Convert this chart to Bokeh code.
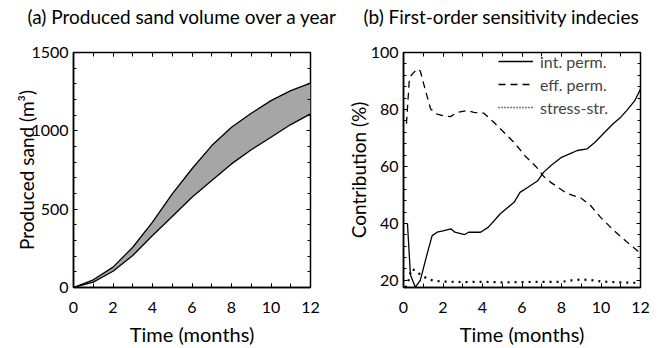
from bokeh.plotting import figure
from bokeh.layouts import row
from bokeh.models import (Range1d, SingleIntervalTicker, LinearAxis, Title,
                          Legend, LegendItem, ColumnDataSource)
from bokeh.embed import file_html
from bokeh.resources import INLINE

FONT = "Lato"

# ---------------- data: panel (a) ----------------
months = [0, 1, 2, 3, 4, 5, 6, 7, 8, 9, 10, 11, 12]
sand_upper = [0, 49, 130, 257, 417, 598, 758, 906, 1023, 1112, 1193, 1257, 1304]
sand_lower = [0, 34, 104, 204, 332, 453, 576, 683, 789, 879, 959, 1040, 1108]

# ---------------- data: panel (b) ----------------
int_perm_t = [0.2, 0.35, 0.6, 0.85, 1.2, 1.45, 1.7, 2.0, 2.4, 2.6, 3.1, 3.3, 3.9, 4.3,
              4.9, 5.6, 5.9, 6.3, 6.8, 7.1, 7.5, 8.0, 8.5, 8.8, 9.3, 9.7, 10.1, 10.6,
              11.0, 11.3, 11.7, 12.0]
int_perm = [40, 22, 17.6, 20, 29.4, 35.7, 36.9, 37.4, 38.1, 36.9, 36.1, 36.9, 36.9, 38.7,
            43.4, 47.4, 50.9, 52.7, 55, 58, 60.5, 63.2, 64.7, 65.6, 66.2, 68.5, 71.4, 74.9,
            77.3, 79.6, 83, 87.2]

eff_perm_t = [0.15, 0.3, 0.45, 0.7, 0.85, 1.1, 1.37, 1.7, 2.0, 2.38, 2.72, 3.22, 3.56,
              4.07, 4.57, 5.08, 5.59, 6.18, 6.7, 7.1, 7.44, 8.28, 8.96, 9.47, 9.97, 10.65,
              11.33, 12.0]
eff_perm = [75, 91, 92.5, 94.2, 93.5, 87, 80.2, 78.4, 77.8, 77.5, 79, 79.6, 79,
            78.7, 75.5, 72, 68.5, 63.5, 60, 56.5, 54.5, 50.5, 49, 46.3, 42.2, 37.5,
            33.4, 29.5]

stress_t = [0.1, 0.22, 0.4, 0.6, 0.8, 1.0, 1.3, 1.6, 2, 3, 4, 5, 6, 7, 8, 8.5, 9, 9.5,
            10, 11, 12]
stress_str = [17.5, 19, 24, 23.5, 22.3, 21.4, 20.3, 19.8, 19.6, 19.4, 19.5, 19.3, 19.4,
              19.5, 19.5, 20, 20.3, 20.1, 19.6, 19.3, 19.1]

titles = ["(a) Produced sand volume over a year", "(b) First-order sensitivity indecies"]
x_label = "Time (months)"
y_labels = ["Produced sand (m³)", "Contribution (%)"]
legend_labels = ["int. perm.", "eff. perm.", "stress-str."]


def make_fig(width, border_left, title, title_offset, y_range, y_interval, y_minor,
             xlab, ylab, ylab_standoff):
    p = figure(width=width, height=348, output_backend="svg", toolbar_location=None,
               x_range=Range1d(0, 12), y_range=y_range,
               min_border_left=border_left, min_border_right=width - border_left - 237,
               min_border_top=52, min_border_bottom=61)
    p.grid.visible = False
    p.outline_line_color = "black"
    p.outline_line_width = 1.5
    xt = SingleIntervalTicker(interval=2, num_minor_ticks=2)
    yt = SingleIntervalTicker(interval=y_interval, num_minor_ticks=y_minor)
    xa = p.xaxis[0]
    ya = p.yaxis[0]
    xa.ticker = xt
    ya.ticker = yt
    for ax in (xa, ya):
        ax.major_tick_in = 4
        ax.major_tick_out = 0
        ax.minor_tick_in = 3
        ax.minor_tick_out = 0
        ax.axis_line_color = "black"
        ax.axis_line_width = 1.5
        ax.major_label_text_font = FONT
        ax.major_label_text_font_size = "16px"
        ax.major_label_text_color = "black"
        ax.axis_label_text_font = FONT
        ax.axis_label_text_font_size = "19px"
        ax.axis_label_text_font_style = "normal"
        ax.axis_label_text_color = "black"
    xa.minor_tick_in = 4
    xa.major_label_standoff = 14
    xa.axis_label_standoff = 6
    xa.axis_label_text_font_size = "20px"
    xa.axis_label = xlab
    ya.major_label_standoff = 5
    ya.axis_label = ylab
    ya.axis_label_standoff = ylab_standoff
    # top / right axes: inward ticks only
    top = LinearAxis(ticker=xt, major_label_text_font_size="1px",
                     major_label_text_color=None, major_tick_in=4,
                     major_tick_out=0, minor_tick_in=4, minor_tick_out=0,
                     major_label_standoff=0, axis_line_color=None)
    right = LinearAxis(ticker=yt, major_label_text_font_size="1px",
                       major_label_text_color=None, major_tick_in=4,
                       major_tick_out=0, minor_tick_in=3, minor_tick_out=0,
                       major_label_standoff=0, axis_line_color=None)
    p.add_layout(top, "above")
    p.add_layout(right, "right")
    # second (blank) line lifts the title text away from the frame
    p.title = Title(text=title + "\n ", align="left", offset=title_offset, standoff=4,
                    text_font=FONT, text_font_size="19px", text_font_style="normal",
                    text_color="black")
    return p


# ---------------- panel (a) ----------------
pa = make_fig(340, 73, titles[0], -46, Range1d(0, 1500), 500, 5, x_label, y_labels[0], -10)
src_a = ColumnDataSource(dict(t=months, up=sand_upper, lo=sand_lower))
pa.varea(x="t", y1="lo", y2="up", source=src_a, fill_color="#a6a6a6")
pa.line(x="t", y="up", source=src_a, line_color="black", line_width=1.3)
pa.line(x="t", y="lo", source=src_a, line_color="black", line_width=1.3)

# ---------------- panel (b) ----------------
pb = make_fig(320, 63, titles[1], -40, Range1d(17.5, 100), 20, 5, x_label, y_labels[1], -2)
r1 = pb.line(int_perm_t, int_perm, line_color="black", line_width=1.3)
r2 = pb.line(eff_perm_t, eff_perm, line_color="black", line_width=1.3, line_dash="7 5")
pb.line(stress_t, stress_str, line_color="black", line_width=2.2, line_dash="2 5")
# legend proxy for the dotted sample (drawn only in the legend)
nan = float("nan")
r3 = pb.line([nan], [nan], line_color="black", line_width=1.5, line_dash="1 2")
leg = Legend(items=[LegendItem(label=legend_labels[0], renderers=[r1]),
                    LegendItem(label=legend_labels[1], renderers=[r2]),
                    LegendItem(label=legend_labels[2], renderers=[r3])],
             location=(95, 170), padding=0, margin=0, spacing=3,
             border_line_color=None, background_fill_alpha=0,
             label_text_font=FONT, label_text_font_size="16px",
             glyph_width=35, glyph_height=20, label_height=20, label_standoff=7)
pb.add_layout(leg)

layout = row(pa, pb)
open("out.html", "w").write(file_html(layout, INLINE))
